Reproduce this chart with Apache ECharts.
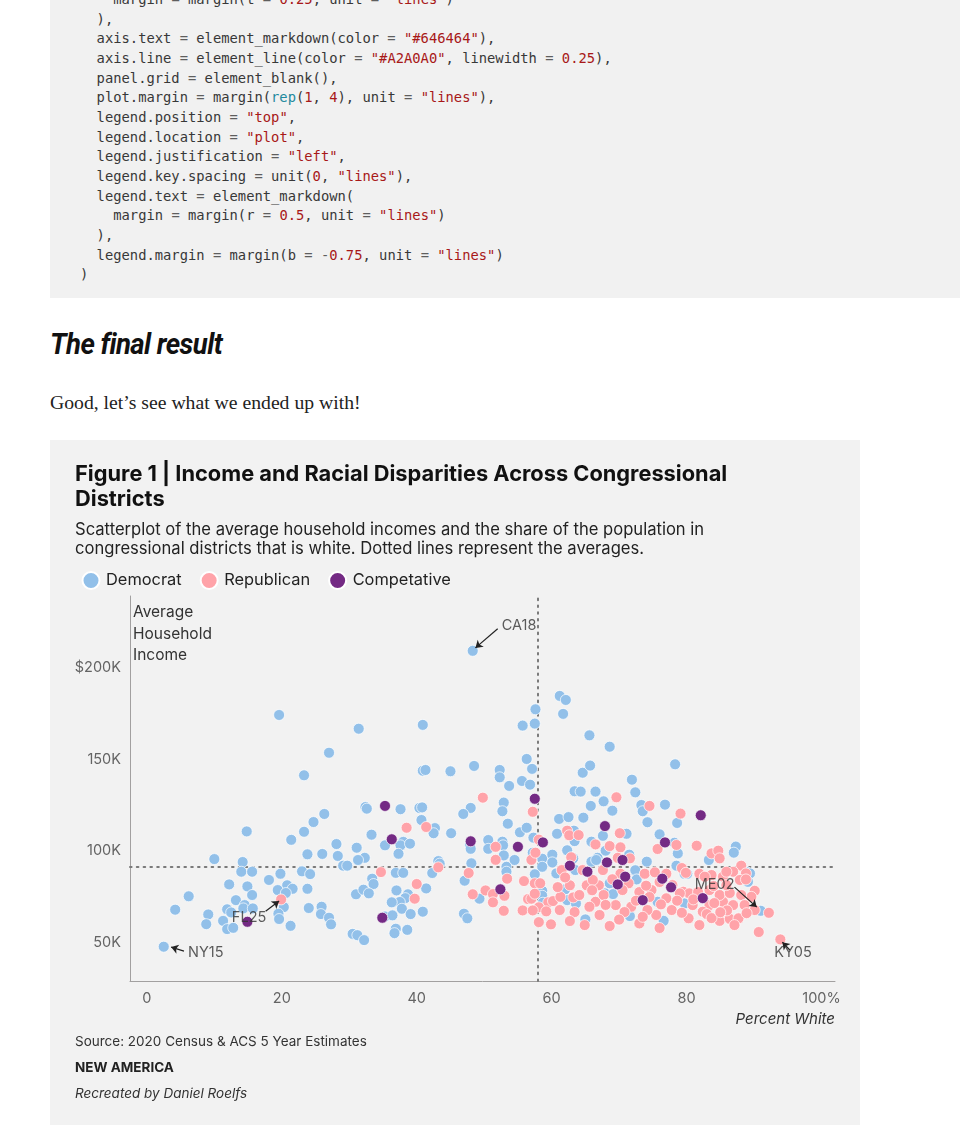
<!DOCTYPE html>
<html>
<head>
<meta charset="utf-8">
<script src="https://cdn.jsdelivr.net/npm/echarts@6/dist/echarts.min.js"></script>
<style>
  html, body { margin: 0; padding: 0; background: #ffffff; width: 960px; height: 1145px; overflow: hidden; }
  #code { position: absolute; left: 50px; top: 0; width: 910px; height: 298px; background: #f1f1f1; overflow: hidden; }
  #code pre { position: absolute; left: 30px; top: -10px; margin: 0; font-family: "DejaVu Sans Mono", monospace; font-size: 13.8px; line-height: 19.67px; color: #383838; }
  .s { color: #a81818; } .n { color: #a81818; } .f { color: #1f8a9e; } .o { color: #5e5e5e; }
  #h { position: absolute; left: 50px; top: 327px; font-family: Roboto, "Noto Sans", sans-serif; font-weight: 700; font-style: italic; font-size: 29px; color: #111; transform: scaleX(0.95); transform-origin: left top; letter-spacing: -0.6px; white-space: nowrap; }
  #p { position: absolute; left: 50px; top: 391px; font-family: "Liberation Serif", "DejaVu Serif", serif; font-size: 19.7px; color: #222; white-space: nowrap; }
  #panel { position: absolute; left: 50px; top: 440px; width: 810px; height: 685px; background: #f2f2f2; }
  #chart { position: absolute; left: 0; top: 0; width: 810px; height: 685px; }
</style>
</head>
<body>
<div id="code"><pre>    margin <span class="o">=</span> margin(t <span class="o">=</span> <span class="n">0.25</span>, unit <span class="o">=</span> <span class="s">"lines"</span>)
  ),
  axis.text <span class="o">=</span> element_markdown(color <span class="o">=</span> <span class="s">"#646464"</span>),
  axis.line <span class="o">=</span> element_line(color <span class="o">=</span> <span class="s">"#A2A0A0"</span>, linewidth <span class="o">=</span> <span class="n">0.25</span>),
  panel.grid <span class="o">=</span> element_blank(),
  plot.margin <span class="o">=</span> margin(<span class="f">rep</span>(<span class="n">1</span>, <span class="n">4</span>), unit <span class="o">=</span> <span class="s">"lines"</span>),
  legend.position <span class="o">=</span> <span class="s">"top"</span>,
  legend.location <span class="o">=</span> <span class="s">"plot"</span>,
  legend.justification <span class="o">=</span> <span class="s">"left"</span>,
  legend.key.spacing <span class="o">=</span> unit(<span class="n">0</span>, <span class="s">"lines"</span>),
  legend.text <span class="o">=</span> element_markdown(
    margin <span class="o">=</span> margin(r <span class="o">=</span> <span class="n">0.5</span>, unit <span class="o">=</span> <span class="s">"lines"</span>)
  ),
  legend.margin <span class="o">=</span> margin(b <span class="o">=</span> <span class="o">-</span><span class="n">0.75</span>, unit <span class="o">=</span> <span class="s">"lines"</span>)
)</pre></div>
<div id="h">The final result</div>
<div id="p">Good, let’s see what we ended up with!</div>
<div id="panel"><div id="chart"></div></div>
<script>
// ---- data: [percent white, average household income in $K] ----
const xTicks = [0, 20, 40, 60, 80, 100];
const yTicks = [50, 100, 150, 200];
const meanWhite = 57.9;
const meanIncome = 91.2;

const democrat = [
[19.6,174.1],[31.4,166.6],[27.0,153.5],[23.3,141.2],[32.4,123.9],[26.3,120.1],[24.7,115.7],[14.8,110.6],[23.3,110.4],[21.4,106.0],
[28.1,103.7],[31.1,101.7],[23.8,98.1],[26.0,98.3],[28.3,97.2],[32.3,96.2],[31.3,95.0],[10.0,95.5],[14.2,93.9],[29.1,91.9],
[29.7,91.9],[14.0,88.6],[15.6,88.6],[23.0,88.8],[24.2,87.3],[19.8,87.5],[18.1,84.1],[12.2,81.7],[14.9,80.6],[20.8,81.2],
[21.6,79.3],[19.4,78.6],[23.8,79.3],[20.6,77.0],[31.0,76.3],[32.1,78.8],[6.2,75.2],[15.6,75.9],[13.2,73.1],[14.5,70.4],
[20.3,69.3],[4.2,67.9],[11.9,68.1],[14.3,68.6],[15.7,68.6],[24.0,68.8],[25.9,69.5],[12.5,66.4],[9.1,65.3],[19.5,65.7],
[25.8,65.5],[27.0,63.5],[11.3,61.8],[8.8,60.0],[19.6,62.8],[11.9,57.3],[12.8,58.0],[27.3,59.9],[21.3,59.1],[30.5,54.7],
[31.2,54.0],[32.2,51.3],[2.5,47.7],[40.9,168.7],[57.6,177.2],[55.7,168.3],[57.5,169.4],[61.2,184.5],[56.3,150.1],[57.1,144.7],
[40.9,143.7],[41.3,144.1],[45.0,143.4],[48.5,146.3],[52.3,144.1],[52.3,140.1],[53.7,135.4],[55.6,138.1],[56.8,136.1],[32.6,123.0],
[37.6,122.7],[40.4,123.4],[40.8,123.7],[40.7,116.8],[48.0,123.4],[46.9,120.1],[52.9,126.3],[52.7,121.6],[53.5,114.8],[42.7,112.4],
[42.5,109.6],[45.1,109.6],[33.3,108.8],[55.3,110.1],[56.3,112.6],[60.8,109.3],[38.0,104.9],[37.6,103.0],[39.0,103.9],[35.3,103.0],
[37.3,98.4],[47.9,103.2],[48.0,101.1],[50.6,105.9],[50.6,101.1],[52.7,105.0],[52.8,103.0],[57.3,107.2],[52.9,97.5],[54.5,95.0],
[57.2,99.0],[58.6,95.7],[60.1,97.9],[60.1,93.7],[43.2,94.4],[43.4,93.0],[48.1,93.2],[53.3,91.3],[53.3,88.6],[58.6,91.3],
[36.9,88.0],[38.0,88.0],[42.3,87.9],[57.5,87.2],[60.7,87.7],[33.4,84.8],[33.6,81.9],[47.1,83.7],[41.4,79.5],[37.0,78.4],
[32.9,76.8],[49.3,73.9],[58.6,78.2],[58.6,75.5],[38.7,76.3],[38.3,74.2],[37.5,72.1],[36.3,71.9],[37.8,68.4],[39.1,65.5],
[40.9,66.8],[35.3,64.2],[36.4,64.8],[47.0,65.7],[47.5,63.2],[36.9,57.5],[36.7,55.1],[38.6,56.9],[48.3,209.1],[62.1,182.3],
[61.7,174.7],[65.6,163.0],[68.6,156.8],[78.3,147.2],[64.6,142.6],[65.7,146.5],[63.4,132.5],[64.3,132.3],[66.5,132.3],[71.9,138.8],
[72.4,131.9],[67.7,127.0],[65.8,124.5],[69.0,121.9],[73.3,125.0],[73.5,121.6],[76.8,125.2],[74.2,115.6],[78.6,115.2],[61.1,117.4],
[62.5,118.4],[64.7,118.1],[63.3,111.0],[63.4,105.3],[67.6,108.2],[71.1,109.3],[65.9,105.0],[76.0,109.0],[78.2,104.4],[78.7,98.6],
[62.3,100.3],[71.5,97.9],[66.8,96.2],[63.5,89.5],[72.4,89.4],[78.5,91.9],[79.7,87.5],[80.1,87.5],[68.6,82.3],[72.6,84.4],
[62.0,79.0],[62.3,73.1],[63.6,71.3],[65.0,62.6],[71.6,64.4],[76.6,61.8],[87.3,102.3],[87.0,99.0],[68.0,100.1],[83.3,95.0],
[65.9,94.1],[66.6,95.0],[74.1,94.1],[88.8,88.6],[67.9,76.8],[69.1,76.4],[75.7,72.2],[79.7,71.3],[89.4,87.7],[89.1,83.1],
[91.0,67.3],[58.7,71.7],[63.2,95.9]
];

const republican = [
[49.8,129.0],[57.2,121.3],[38.5,112.6],[41.4,113.0],[58.1,106.1],[51.7,102.2],[51.7,95.1],[57.0,95.1],[57.6,99.0],[43.2,91.0],
[34.7,88.4],[47.7,87.9],[53.4,84.8],[55.9,83.5],[57.5,82.3],[40.0,81.9],[50.2,78.4],[48.3,76.3],[51.3,76.4],[53.0,75.5],
[39.7,73.9],[56.5,73.7],[57.0,73.9],[51.3,71.9],[59.5,71.9],[60.2,72.6],[52.9,67.3],[55.7,67.5],[58.1,69.2],[57.2,67.5],
[59.2,67.0],[58.1,61.1],[59.9,59.9],[19.9,73.5],[61.3,74.9],[69.6,129.2],[74.5,124.5],[79.1,120.3],[62.3,111.0],[62.6,108.5],
[64.0,108.6],[70.1,109.6],[66.5,103.5],[68.6,102.6],[70.2,101.9],[62.9,96.5],[75.7,101.0],[78.5,103.2],[81.5,102.8],[69.8,96.2],
[61.5,89.5],[64.6,89.5],[67.6,89.5],[70.2,87.5],[73.8,87.5],[75.3,88.3],[77.0,87.5],[81.9,87.5],[79.3,90.6],[57.5,76.6],
[58.3,82.3],[62.7,81.2],[65.2,81.2],[67.0,81.2],[73.0,77.5],[63.2,74.6],[68.6,59.0],[73.0,60.4],[80.3,63.2],[83.7,98.6],
[84.7,100.1],[84.9,95.9],[71.6,95.9],[88.1,91.9],[79.9,88.0],[83.7,86.8],[85.4,85.9],[86.9,88.6],[66.1,84.1],[71.4,82.3],
[70.5,78.6],[74.8,78.6],[79.5,77.7],[80.4,76.8],[66.5,72.2],[69.5,70.4],[71.8,69.5],[77.0,74.1],[80.9,70.4],[83.4,70.4],
[85.4,72.2],[86.9,70.4],[84.9,61.8],[86.4,62.9],[87.7,63.2],[87.1,59.5],[75.5,65.0],[65.6,69.5],[88.8,87.7],[90.1,78.2],
[89.6,74.9],[90.1,67.7],[92.2,66.2],[90.7,55.7],[93.9,51.7],[82.4,66.8],[83.0,65.5],[82.7,85.9],[85.9,88.6],[87.9,84.1],
[88.8,84.4],[79.0,76.8],[81.7,77.5],[83.4,78.6],[84.9,75.9],[86.4,77.0],[88.1,75.9],[88.6,70.4],[84.1,71.5],[61.2,67.7],
[63.4,66.6],[64.1,75.9],[60.9,80.2],[67.1,65.0],[70.8,66.6],[74.2,67.7],[77.8,67.7],[76.0,57.9],[81.9,59.5],[83.7,63.3],
[67.7,75.9],[74.5,74.8],[77.9,81.3],[76.0,83.0],[84.0,80.8],[85.9,81.3],[64.9,59.5],[62.7,61.7],[68.0,70.5],[72.5,72.8],
[76.2,70.8],[78.6,72.8],[81.0,73.5],[86.0,67.5],[88.9,66.0],[73.5,64.0],[79.3,66.2],[70.0,62.5],[66.0,78.5],[69.0,84.5],
[74.0,81.0],[62.0,85.5],[85.0,66.5]
];

const competitive = [
[14.9,61.3],[35.3,124.5],[57.5,128.4],[36.3,106.3],[48.0,105.2],[55.0,102.2],[58.7,104.6],[52.4,79.0],[34.9,63.5],[67.9,113.5],
[76.8,104.6],[82.1,119.4],[70.5,95.0],[68.2,93.7],[62.7,91.9],[65.3,88.6],[70.9,85.9],[76.4,84.8],[69.8,81.7],[77.7,80.1],
[73.5,73.1],[82.4,74.2]
];

// annotations: label anchor, arrow start, arrow end (data units)
const annoNames = ["CA18", "NY15", "FL25", "ME02", "KY05"];
const annoLabel = [[52.6,222.7],[6.1,44.2],[12.6,63.3],[81.2,81.3],[93.0,44.2]];
const arrowFrom = [[52.0,221.1],[5.5,45.3],[17.6,67.1],[87.1,80.2],[95.3,45.9]];
const arrowTo   = [[48.7,210.7],[3.6,47.5],[19.6,72.6],[90.4,69.3],[94.2,50.2]];

const FONT = 'Inter, "Open Sans", sans-serif';
const COLORS = { dem: '#92c0e9', rep: '#ffa3a9', comp: '#742a84' };

const chart = echarts.init(document.getElementById('chart'), null, { renderer: 'canvas' });

function pointSeries(name, data, color, z) {
  return {
    name: name, type: 'scatter', data: data, symbolSize: 11, z: z,
    itemStyle: { color: color, borderColor: '#ffffff', borderWidth: 0.7, opacity: 1 },
    emphasis: { disabled: true }, silent: true
  };
}

function txt(text, pos, style) {
  return Object.assign({ text: text, padding: 0, itemGap: 0,
    textStyle: Object.assign({ fontFamily: FONT, fontWeight: 400, color: '#333333' }, style) }, pos);
}

const dotted = { color: '#7a7a7a', width: 2, type: [1.6, 5.2], cap: 'round' };

const option = {
  animation: false,
  backgroundColor: 'transparent',
  textStyle: { fontFamily: FONT },
  title: [
    txt('Figure 1 | Income and Racial Disparities Across Congressional\nDistricts', { left: 25, top: 21.5 },
      { fontSize: 21.8, fontWeight: 700, color: '#111111', lineHeight: 25 }),
    txt('Scatterplot of the average household incomes and the share of the population in\ncongressional districts that is white. Dotted lines represent the averages.', { left: 25, top: 80.5 },
      { fontSize: 16.6, color: '#222222', lineHeight: 19 }),
    txt('Average\nHousehold\nIncome', { left: 83, top: 162 },
      { fontSize: 15.5, color: '#333333', lineHeight: 21.5 }),
    txt('Percent White', { right: 25, top: 572 },
      { fontSize: 15, fontStyle: 'italic', color: '#333333' }),
    txt('Source: 2020 Census & ACS 5 Year Estimates', { left: 25, top: 595 },
      { fontSize: 13.5, color: '#333333' }),
    txt('NEW AMERICA', { left: 25, top: 621 },
      { fontSize: 13.5, fontWeight: 700, color: '#222222' }),
    txt('Recreated by Daniel Roelfs', { left: 25, top: 647 },
      { fontSize: 13.5, fontStyle: 'italic', color: '#333333' })
  ],
  legend: {
    left: 31.5, top: 131, padding: 0, icon: 'circle', itemWidth: 17, itemHeight: 17, itemGap: 18,
    selectedMode: false,
    textStyle: { fontFamily: FONT, fontSize: 16.4, color: '#222222', padding: [0, 0, 0, 1.5] },
    data: ['Democrat', 'Republican', 'Competative']
  },
  grid: { left: 80, top: 156, width: 705, height: 385, containLabel: false },
  xAxis: {
    type: 'value', min: -2.5, max: 102,
    axisLine: { show: true, onZero: false, lineStyle: { color: '#A2A0A0', width: 1 } },
    axisTick: { show: false },
    splitLine: { show: false },
    axisLabel: {
      customValues: xTicks, margin: 10, color: '#646464', fontSize: 14.5, fontFamily: FONT,
      formatter: v => (v === 100 ? '100%' : String(v))
    }
  },
  yAxis: {
    type: 'value', min: 29, max: 239,
    axisLine: { show: true, onZero: false, lineStyle: { color: '#A2A0A0', width: 1 } },
    axisTick: { show: false },
    splitLine: { show: false },
    axisLabel: {
      customValues: yTicks, margin: 9, color: '#646464', fontSize: 14.5, fontFamily: FONT,
      formatter: v => (v === 200 ? '$200K' : v + 'K')
    }
  },
  series: [
    Object.assign(pointSeries('Democrat', democrat, COLORS.dem, 3), {
      markLine: {
        silent: true, symbol: 'none', label: { show: false }, z: 2,
        lineStyle: dotted,
        data: [{ xAxis: meanWhite }, { yAxis: meanIncome }]
      }
    }),
    pointSeries('Republican', republican, COLORS.rep, 4),
    pointSeries('Competative', competitive, COLORS.comp, 5),
    {
      name: 'annotations', type: 'scatter', silent: true, z: 10,
      symbolSize: 0,
      data: annoLabel.map((p, i) => ({ value: p, name: annoNames[i] })),
      label: {
        show: true, position: 'right', distance: 0, formatter: p => p.name,
        fontFamily: FONT, fontSize: 14.5, color: '#333333', align: 'left', verticalAlign: 'middle'
      },
      markLine: {
        silent: true, symbol: ['none', 'arrow'], symbolSize: 7, label: { show: false },
        lineStyle: { color: '#222222', width: 1.2, type: 'solid' },
        data: arrowFrom.map((f, i) => [{ coord: f }, { coord: arrowTo[i] }])
      }
    }
  ]
};
chart.setOption(option);
</script>
</body>
</html>
